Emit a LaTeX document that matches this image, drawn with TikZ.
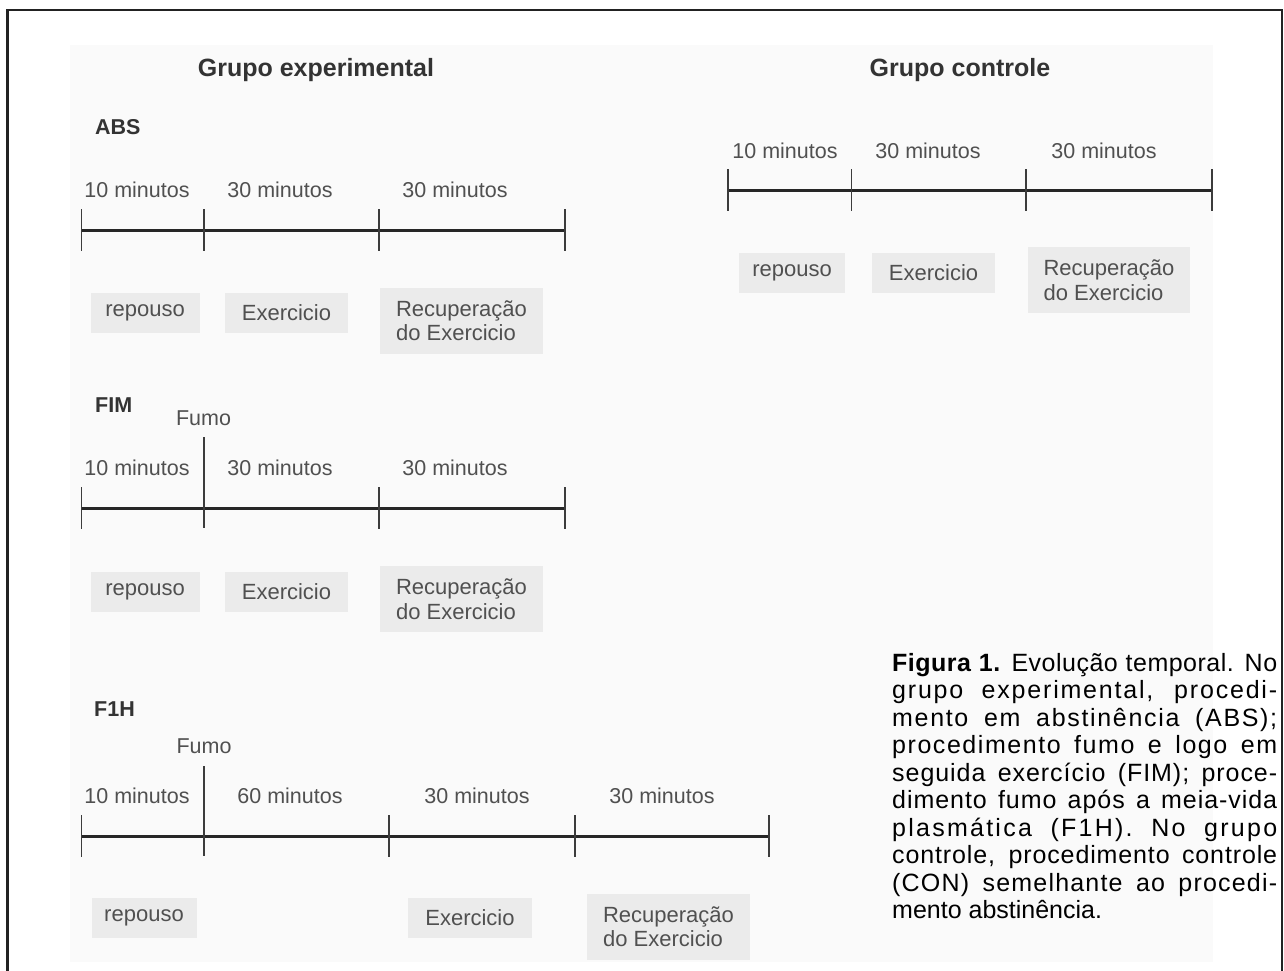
\documentclass[tikz,border=0pt]{standalone}
\usepackage{fontspec}
\setmainfont{Liberation Sans}
\definecolor{tlc}{HTML}{262626}
\definecolor{tkc}{HTML}{3C3C3C}
\definecolor{labc}{HTML}{505050}
\definecolor{ttlc}{HTML}{333333}
\definecolor{boxc}{HTML}{EBEBEB}
\definecolor{bgc}{HTML}{FAFAFA}
\definecolor{framec}{HTML}{222222}
\newcommand{\capline}[2]{\makebox[385pt][s]{\addfontfeature{LetterSpace=#1}#2}}
\begin{document}
\begin{tikzpicture}[x=1pt,y=-1pt,
  tl/.style={line width=3pt,color=tlc},
  tk/.style={line width=1.8pt,color=tkc},
  lab/.style={anchor=base,inner sep=0,text=labc,font=\fontsize{21.5}{24}\selectfont},
  box/.style={fill=boxc,inner sep=0,text=labc,font=\fontsize{22}{24.5}\selectfont,align=left},
  sbox/.style={box,minimum height=40pt},
  rbox/.style={box,minimum width=163pt,minimum height=66pt},
  ttl/.style={anchor=base,inner sep=0,text=ttlc,font=\bfseries\fontsize{25}{28}\selectfont},
  rowl/.style={anchor=base west,inner sep=0,text=ttlc,font=\bfseries\fontsize{21.5}{24}\selectfont},
  captxt/.style={anchor=base west,inner sep=0,text=black,font=\fontsize{25}{27}\selectfont}]
\useasboundingbox (0,0) rectangle (1284,971);
\fill[bgc] (70,45) rectangle (1213,962);
\draw[line width=2.5pt,framec] (7.5,980) -- (7.5,10) -- (1282,10) -- (1282,980);

% titles
\node[ttl] (tExp) at (316,77) {Grupo experimental};
\node[ttl] (tCon) at (960,77) {Grupo controle};

% ABS row
\node[rowl] (lABS) at (95,135) {ABS};
\coordinate (A0) at (81.5,230);
\coordinate (A1) at (204,230);
\coordinate (A2) at (379,230);
\coordinate (A3) at (565,230);
\draw[tl] (A0) -- (A3);
\foreach \c in {A0,A1,A2,A3} \draw[tk] ([yshift=21pt]\c) -- ([yshift=-21pt]\c);
\node[lab] (A-t1) at (137,197.5) {10 minutos};
\node[lab] (A-t2) at (280,197.5) {30 minutos};
\node[lab] (A-t3) at (455,197.5) {30 minutos};
\node[sbox,minimum width=109pt] (A-b1) at (145,313) {repouso};
\node[sbox,minimum width=123pt] (A-b2) at (286.5,313) {Exercicio};
\node[rbox] (A-b3) at (461.5,320.5) {Recuperação\\do Exercicio};

% FIM row
\node[rowl] (lFIM) at (95,412.5) {FIM};
\node[lab] (B-fumo) at (203.5,425) {Fumo};
\coordinate (B0) at (81.5,508);
\coordinate (B1) at (204,508);
\coordinate (B2) at (379,508);
\coordinate (B3) at (565,508);
\draw[tl] (B0) -- (B3);
\foreach \c in {B0,B2,B3} \draw[tk] ([yshift=21pt]\c) -- ([yshift=-21pt]\c);
\draw[tk] ([yshift=71pt]B1) -- ([yshift=-20pt]B1);
\node[lab] (B-t1) at (137,475) {10 minutos};
\node[lab] (B-t2) at (280,475) {30 minutos};
\node[lab] (B-t3) at (455,475) {30 minutos};
\node[sbox,minimum width=109pt] (B-b1) at (145,591.5) {repouso};
\node[sbox,minimum width=123pt] (B-b2) at (286.5,591.5) {Exercicio};
\node[rbox] (B-b3) at (461.5,599) {Recuperação\\do Exercicio};

% F1H row
\node[rowl] (lF1H) at (94,716) {F1H};
\node[lab] (C-fumo) at (204,753) {Fumo};
\coordinate (C0) at (81.5,836);
\coordinate (C1) at (204,836);
\coordinate (C2) at (389,836);
\coordinate (C3) at (575,836);
\coordinate (C4) at (769,836);
\draw[tl] (C0) -- (C4);
\foreach \c in {C0,C2,C3,C4} \draw[tk] ([yshift=21pt]\c) -- ([yshift=-21pt]\c);
\draw[tk] ([yshift=70pt]C1) -- ([yshift=-20pt]C1);
\node[lab] (C-t1) at (137,803) {10 minutos};
\node[lab] (C-t2) at (290,803) {60 minutos};
\node[lab] (C-t3) at (477,803) {30 minutos};
\node[lab] (C-t4) at (662,803) {30 minutos};
\node[sbox,minimum width=105pt] (C-b1) at (144,918) {repouso};
\node[sbox,minimum width=124pt] (C-b2) at (470,918) {Exercicio};
\node[rbox] (C-b3) at (668.5,926.5) {Recuperação\\do Exercicio};

% Control row
\coordinate (D0) at (728,190);
\coordinate (D1) at (851.5,190);
\coordinate (D2) at (1026,190);
\coordinate (D3) at (1212,190);
\draw[tl] (D0) -- (D3);
\foreach \c in {D0,D1,D2,D3} \draw[tk] ([yshift=21pt]\c) -- ([yshift=-21pt]\c);
\node[lab] (D-t1) at (785,158) {10 minutos};
\node[lab] (D-t2) at (928,158) {30 minutos};
\node[lab] (D-t3) at (1104,158) {30 minutos};
\node[sbox,minimum width=106pt] (D-b1) at (792,272.5) {repouso};
\node[sbox,minimum width=123pt] (D-b2) at (933.5,273) {Exercicio};
\node[rbox,minimum width=162pt] (D-b3) at (1109,280) {Recuperação\\do Exercicio};

% caption
\node[captxt] (cap1) at (892,671) {\capline{2.0}{\textbf{Figura 1.} Evolução temporal. No}};
\node[captxt] (cap2) at (892,698.5) {\capline{7.2}{grupo experimental, procedi-}};
\node[captxt] (cap3) at (892,726) {\capline{6.7}{mento em abstinência (ABS);}};
\node[captxt] (cap4) at (892,753.5) {\capline{6.2}{procedimento fumo e logo em}};
\node[captxt] (cap5) at (892,781) {\capline{3.8}{seguida exercício (FIM); proce-}};
\node[captxt] (cap6) at (892,808.5) {\capline{3.8}{dimento fumo após a meia-vida}};
\node[captxt] (cap7) at (892,836) {\capline{9.0}{plasmática (F1H). No grupo}};
\node[captxt] (cap8) at (892,863.5) {\capline{3.5}{controle, procedimento controle}};
\node[captxt] (cap9) at (892,891) {\capline{4.8}{(CON) semelhante ao procedi-}};
\node[captxt] (cap10) at (892,918.5) {mento abstinência.};
\end{tikzpicture}
\end{document}
